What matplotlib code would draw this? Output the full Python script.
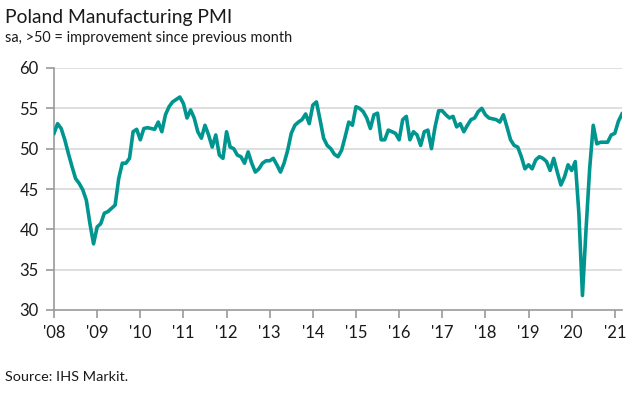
import matplotlib
matplotlib.use("Agg")
import matplotlib.pyplot as plt
import numpy as np

plt.rcParams['font.family'] = ['Lato', 'DejaVu Sans']

title = "Poland Manufacturing PMI"
subtitle = "sa, >50 = improvement since previous month"
source = "Source: IHS Markit."

pmi_2008 = [51.9, 53.1, 52.5, 51.1, 49.4, 47.8, 46.3, 45.7, 44.9, 43.6, 40.7, 38.2]
pmi_2009 = [40.3, 40.7, 42.0, 42.2, 42.6, 43.0, 46.3, 48.2, 48.2, 48.8, 52.1, 52.4]
pmi_2010 = [51.1, 52.5, 52.6, 52.5, 52.4, 53.3, 52.1, 54.2, 55.2, 55.8, 56.1, 56.4]
pmi_2011 = [55.6, 53.8, 54.8, 53.8, 52.1, 51.3, 52.9, 51.7, 50.2, 51.7, 49.2, 48.8]
pmi_2012 = [52.1, 50.2, 50.0, 49.2, 49.0, 48.2, 49.6, 48.2, 47.1, 47.5, 48.2, 48.5]
pmi_2013 = [48.5, 48.8, 48.0, 47.1, 48.2, 49.8, 51.9, 52.9, 53.3, 53.6, 54.3, 53.1]
pmi_2014 = [55.4, 55.8, 53.6, 51.3, 50.4, 50.0, 49.3, 49.0, 49.8, 51.5, 53.3, 52.9]
pmi_2015 = [55.2, 55.0, 54.6, 53.8, 52.5, 54.2, 54.4, 51.1, 51.1, 52.3, 52.1, 51.9]
pmi_2016 = [51.1, 53.6, 54.0, 51.1, 52.1, 51.7, 50.4, 52.1, 52.3, 50.0, 52.7, 54.7]
pmi_2017 = [54.7, 54.2, 53.8, 54.0, 52.7, 53.1, 52.1, 52.9, 53.6, 53.8, 54.6, 55.0]
pmi_2018 = [54.2, 53.8, 53.7, 53.6, 53.3, 54.2, 52.7, 51.1, 50.4, 50.2, 49.0, 47.5]
pmi_2019 = [48.0, 47.5, 48.6, 49.0, 48.8, 48.4, 47.3, 48.8, 47.1, 45.5, 46.5, 48.0]
pmi_2020 = [47.3, 48.4, 42.0, 31.8, 40.0, 47.5, 52.9, 50.6, 50.8, 50.8, 50.8, 51.7]
pmi_2021 = [51.9, 53.4, 54.3]

year_labels = ["'08", "'09", "'10", "'11", "'12", "'13", "'14", "'15", "'16",
               "'17", "'18", "'19", "'20", "'21"]
y_ticks = [30, 35, 40, 45, 50, 55, 60]

values = np.array(pmi_2008 + pmi_2009 + pmi_2010 + pmi_2011 + pmi_2012 + pmi_2013 +
                  pmi_2014 + pmi_2015 + pmi_2016 + pmi_2017 + pmi_2018 + pmi_2019 +
                  pmi_2020 + pmi_2021)
months = np.arange(len(values))

fig = plt.figure(figsize=(6.39, 3.95), dpi=100)
ax = fig.add_axes([54/639, 1-310/395, (622-54)/639, (310-68)/395])

for yv in y_ticks[1:]:
    ax.axhline(yv, color='#d9d9d9', lw=1.2, zorder=1)

ax.plot(months, values, color='#00968f', lw=2.6, zorder=3, solid_joinstyle='round')

ax.set_xlim(0, len(values) - 1)
ax.set_ylim(30, 60)
ax.set_yticks(y_ticks)
ax.set_yticklabels([str(v) for v in y_ticks])
ax.set_xticks(np.arange(0, len(values), 12))
ax.set_xticklabels(year_labels)

for s in ['top', 'right']:
    ax.spines[s].set_visible(False)
for s in ['left', 'bottom']:
    ax.spines[s].set_color('#9a9a9a')
    ax.spines[s].set_linewidth(1.2)
ax.tick_params(axis='both', colors='#9a9a9a', length=6, width=1.2, labelsize=12,
               labelcolor='#1a1a1a')
ax.tick_params(axis='y', pad=5)
ax.tick_params(axis='x', pad=5)

fig.text(5/639, 1-17/395, title, fontsize=13.9, color='#1a1a1a', va='center', ha='left')
fig.text(5/639, 1-38/395, subtitle, fontsize=10.45, color='#1a1a1a', va='center', ha='left')
fig.text(5/639, 1-377/395, source, fontsize=10.4, color='#1a1a1a', va='center', ha='left')

fig.savefig("out.png", dpi=100)
